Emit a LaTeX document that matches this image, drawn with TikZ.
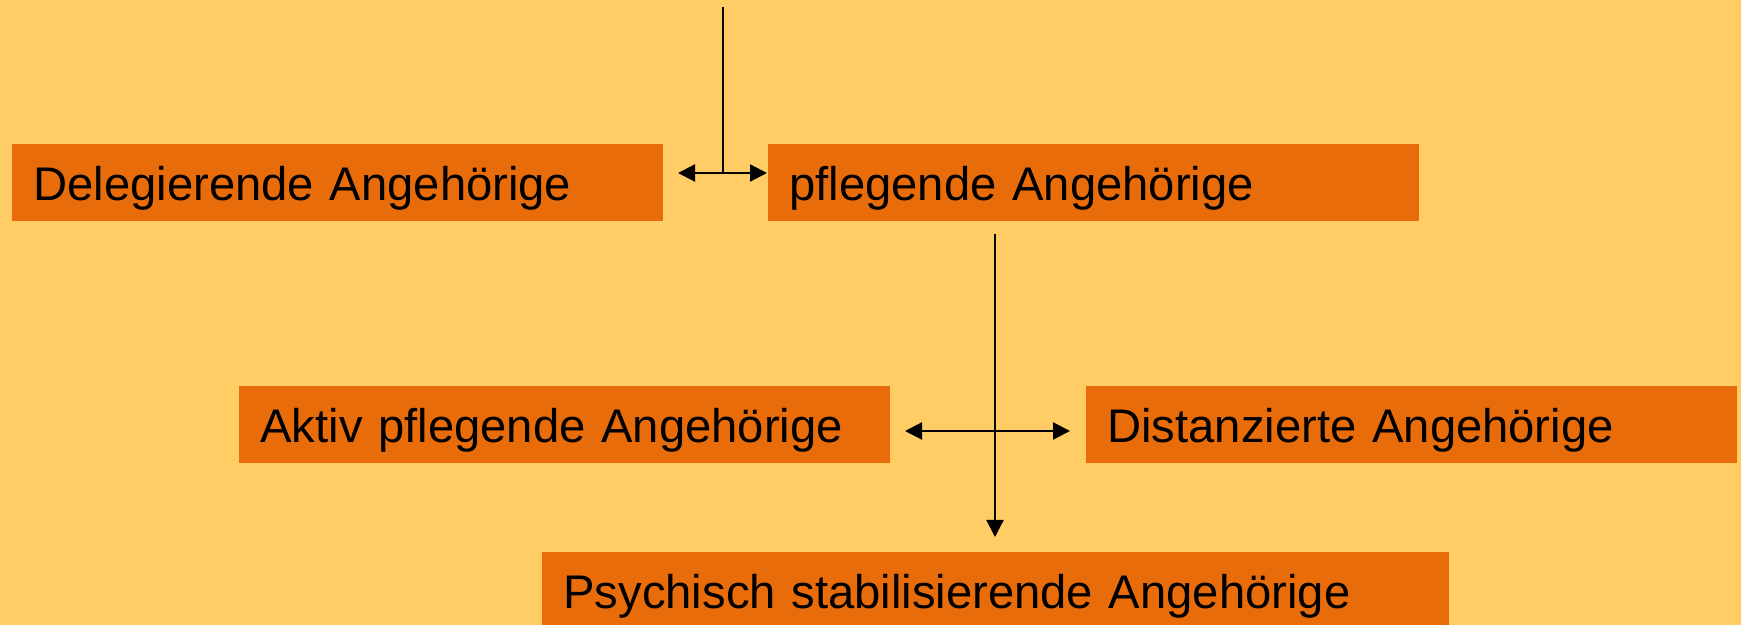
\documentclass[tikz,border=0pt]{standalone}
\usepackage{fontspec}
\setmainfont{Liberation Sans}
\usetikzlibrary{arrows.meta}
\definecolor{bgcol}{RGB}{255,204,102}
\definecolor{boxcol}{RGB}{233,108,10}
\tikzset{
  box/.style={fill=boxcol, draw=none, anchor=north west, inner xsep=10.5pt, inner ysep=0pt,
    text height=28pt, text depth=10.5pt, align=left,
    font=\fontsize{23.6pt}{28pt}\selectfont, text=black},
  conn/.style={draw=black, line width=1.1pt},
  tip/.style={-{Triangle[length=8.5pt,width=8.5pt]}}
}
\begin{document}
\begin{tikzpicture}[x=0.5pt,y=-0.5pt]
\fill[bgcol] (0,0) rectangle (1741,625);
\useasboundingbox (0,0) rectangle (1741,625);
\node[box, text width=304.5pt] (D) at (12,144) {Delegierende Angehörige};
\node[box, text width=304.5pt] (P) at (768,144) {pflegende Angehörige};
\node[box, text width=304.5pt] (A) at (239,386) {Aktiv pflegende Angehörige};
\node[box, text width=304.5pt] (Di) at (1086,386) {Distanzierte Angehörige};
\node[box, text width=432.5pt] (Ps) at (542,552) {Psychisch stabilisierende Angehörige};
\coordinate (top) at (723,7);
\coordinate (j1) at (723,173);
\coordinate (l1) at (678,173);
\coordinate (r1) at (767,173);
\coordinate (v2) at (995,234);
\coordinate (v2e) at (995,537);
\coordinate (j2) at (995,431);
\coordinate (l2) at (905,431);
\coordinate (r2) at (1070,431);
\draw[conn] (top) -- (j1);
\draw[conn, tip] (j1) -- (l1);
\draw[conn, tip] (j1) -- (r1);
\draw[conn, tip] (v2) -- (v2e);
\draw[conn, tip] (j2) -- (l2);
\draw[conn, tip] (j2) -- (r2);
\end{tikzpicture}
\end{document}
